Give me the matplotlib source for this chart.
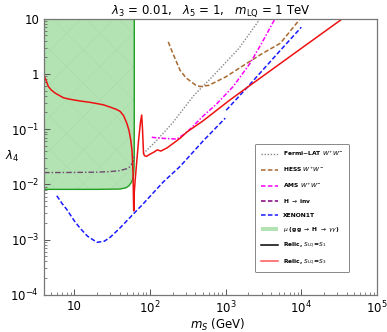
import matplotlib.pyplot as plt
from matplotlib.lines import Line2D
from matplotlib.patches import Patch

plt.rcParams['hatch.linewidth'] = 0.3

# green region mu(gg -> H -> gamma gamma): lower boundary
mu_x = [4, 20, 40, 48, 53, 57, 59.5, 61, 61.8, 62.2, 62.3]
mu_y = [0.0081, 0.0081, 0.0082, 0.0086, 0.0094, 0.0108, 0.0125, 0.015, 0.02, 0.035, 10]

# H -> inv
inv_x = [4, 10, 20, 30, 40, 50, 55, 58, 60, 61.5, 62.3]
inv_y = [0.0163, 0.0164, 0.0166, 0.017, 0.0177, 0.0192, 0.021, 0.0235, 0.026, 0.029, 0.032]

# relic, S_LQ = S3
relic3_x = [4, 4.2, 4.57, 5.0, 5.6, 6.3, 7.2, 9, 10.9, 13, 16.3, 20, 24.4, 30, 36, 40.4, 45, 49.7,
            53, 56, 58, 59, 60, 60.7, 61.2, 61.7, 62.2, 63, 64, 67, 71, 75, 78, 80, 82.5, 85, 90,
            100, 112, 125, 140, 170, 250, 310, 500, 1150, 3000, 10000, 35000]
relic3_y = [0.95, 0.8, 0.59, 0.51, 0.45, 0.41, 0.37, 0.345, 0.33, 0.318, 0.305, 0.29, 0.275, 0.25,
            0.228, 0.21, 0.175, 0.127, 0.095, 0.063, 0.042, 0.027, 0.015, 0.006, 0.0033, 0.004,
            0.007, 0.009, 0.012, 0.025, 0.063, 0.13, 0.18, 0.1, 0.036, 0.033, 0.032, 0.035, 0.038,
            0.042, 0.04, 0.046, 0.068, 0.089, 0.14, 0.34, 0.88, 2.9, 10]

# XENON1T (two pieces)
xe1_x = [5.9, 7, 8, 10, 12, 15, 20, 25, 30, 40, 50, 62, 80, 100, 150, 250, 500, 990]
xe1_y = [0.0062, 0.0044, 0.0035, 0.0022, 0.0016, 0.00115, 0.00089, 0.00093, 0.0011, 0.0016,
         0.0022, 0.003, 0.0043, 0.006, 0.011, 0.021, 0.06, 0.158]
xe2_x = [1020, 2000, 5000, 10000]
xe2_y = [0.22, 0.6, 2.45, 7.0]

# Fermi-LAT W+W-
fermi_x = [82, 120, 200, 377, 700, 1500, 2860]
fermi_y = [0.036, 0.06, 0.13, 0.4, 0.95, 2.9, 10]

# HESS W+W-
hess_x = [175, 200, 250, 300, 400, 460, 600, 1000, 1900, 3000, 5300, 9700]
hess_y = [3.8, 2.4, 1.17, 0.85, 0.63, 0.59, 0.62, 0.88, 1.55, 2.3, 3.6, 10]

# AMS W+W-
ams_x = [106, 150, 227, 280, 340, 500, 770, 1260, 2100, 3000, 4500]
ams_y = [0.071, 0.068, 0.066, 0.08, 0.1, 0.17, 0.29, 0.59, 1.55, 3.6, 10]

fig = plt.figure(figsize=(3.87, 3.32), dpi=100)
ax = fig.add_axes([0.1137, 0.1123, 0.8605, 0.8314])
ax.set_xscale('log')
ax.set_yscale('log')

ax.fill_between(mu_x, mu_y, 10, facecolor='#b3e2b3', edgecolor='#a6d8a6', hatch='x', linewidth=0)
ax.plot(mu_x + [4], mu_y + [10], color='#22a022', lw=1.0)

ax.plot(inv_x, inv_y, color='#6e4a6e', lw=1.0, ls=(0, (4, 1.5, 1, 1.5)))
ax.plot(fermi_x, fermi_y, color='#888888', lw=1.0, ls=(0, (1, 1.2)))
ax.plot(hess_x, hess_y, color='#a8692e', lw=1.1, ls=(0, (3, 1.5)))
ax.plot(ams_x, ams_y, color='#ff00ff', lw=1.1, ls=(0, (3, 1.2, 1, 1.2)))
ax.plot(xe1_x, xe1_y, color='#1a1aff', lw=1.1, ls=(0, (3, 1.5)))
ax.plot(xe2_x, xe2_y, color='#1a1aff', lw=1.1, ls=(0, (3, 1.5)))
ax.plot(relic3_x, relic3_y, color='#ee1111', lw=1.1)

ax.set_xlim(4, 1e5)
ax.set_ylim(1e-4, 10)
ax.set_yticks([1e-4, 1e-3, 1e-2, 1e-1, 1, 10])
ax.set_yticklabels(['$10^{-4}$', '$10^{-3}$', '$10^{-2}$', '$10^{-1}$', '1', '10'])
ax.set_xticks([10, 1e2, 1e3, 1e4, 1e5])
ax.set_xticklabels(['10', '$10^{2}$', '$10^{3}$', '$10^{4}$', '$10^{5}$'])
ax.tick_params(which='both', direction='in', top=False, right=False, labelsize=8.5, color='#555555')
ax.tick_params(which='major', length=4, width=0.7)
ax.tick_params(which='minor', length=2, width=0.5)
for s in ax.spines.values():
    s.set_color('#777777')
    s.set_linewidth(0.9)

ax.set_xlabel('$m_S$ (GeV)', fontsize=8.5)
ax.xaxis.set_label_coords(0.52, -0.082)
ax.set_ylabel('$\\lambda_4$', fontsize=8.5, rotation=0, va='center', ha='center')
ax.yaxis.set_label_coords(-0.095, 0.5)
ax.set_title('$\\lambda_3$ = 0.01,   $\\lambda_5$ = 1,   $m_{\\rm LQ}$ = 1 TeV', fontsize=8.5, pad=3)

handles = [
    Line2D([], [], color='#888888', lw=1.0, ls=(0, (1, 1.2))),
    Line2D([], [], color='#a8692e', lw=1.1, ls=(0, (3, 1.5))),
    Line2D([], [], color='#ff00ff', lw=1.1, ls=(0, (3, 1.5))),
    Line2D([], [], color='#800080', lw=1.1, ls=(0, (3, 1.5))),
    Line2D([], [], color='#1a1aff', lw=1.1, ls=(0, (3, 1.5))),
    Patch(facecolor='#b3e2b3', edgecolor='none'),
    Line2D([], [], color='black', lw=1.1),
    Line2D([], [], color='#ff5555', lw=1.1),
]
labels = ['Fermi$-$LAT $W^{+}W^{-}$', 'HESS $W^{+}W^{-}$', 'AMS $W^{+}W^{-}$', 'H $\\to$ inv',
          'XENON1T', '$\\mu$ (gg $\\to$ H $\\to$ $\\gamma\\gamma$)',
          'Relic, $S_{\\rm LQ}$=$S_1$', 'Relic, $S_{\\rm LQ}$=$S_3$']
leg = ax.legend(handles, labels, loc='lower left', bbox_to_anchor=(0.634, 0.082),
                prop={'size': 4.3, 'weight': 'bold'}, labelspacing=1.2, handlelength=3.0,
                borderpad=0.9, handletextpad=0.8, fancybox=True, framealpha=1,
                edgecolor='#888888', borderaxespad=0)
leg.get_frame().set_linewidth(0.7)

fig.savefig('out.png', dpi=100)
